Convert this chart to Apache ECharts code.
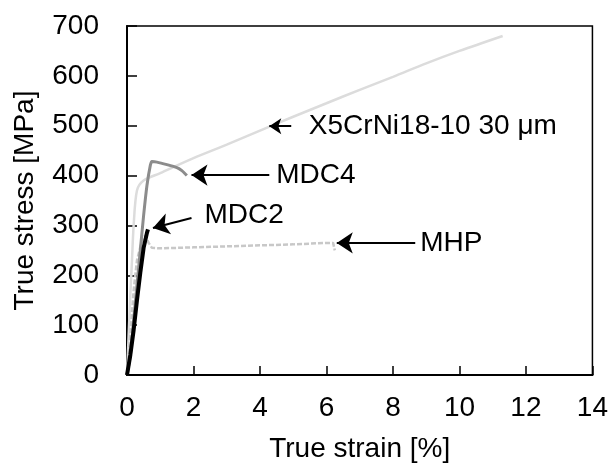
<!DOCTYPE html>
<html><head><meta charset="utf-8">
<script src="https://cdn.jsdelivr.net/npm/echarts@6/dist/echarts.min.js"></script>
<style>html,body{margin:0;padding:0;background:#fff}#c{width:611px;height:468px}</style>
</head><body><div id="c"></div>
<script>
// strain [%], stress [MPa]
const x5Strain = [0, 0.05, 0.1, 0.15, 0.2, 0.3, 0.5, 1, 2, 3, 4, 5, 6, 7, 8, 9, 10, 11.3];
const x5Stress = [0, 80, 160, 230, 300, 370, 390, 405, 435, 462, 490, 518, 545, 572, 598, 625, 650, 680];
const mdc4Strain = [0, 0.1, 0.2, 0.3, 0.4, 0.5, 0.6, 0.7, 0.75, 0.9, 1.2, 1.5, 1.65, 1.8];
const mdc4Stress = [0, 40, 110, 180, 250, 320, 380, 420, 428, 427, 422, 416, 410, 400];
const mdc2Strain = [0, 0.1, 0.2, 0.3, 0.4, 0.5, 0.6, 0.63];
const mdc2Stress = [0, 40, 90, 150, 205, 255, 285, 292];
const mhpStrain = [0, 0.1, 0.2, 0.3, 0.45, 0.55, 0.65, 0.75, 1, 2, 3, 4, 5, 6, 6.2, 6.25];
const mhpStress = [0, 80, 170, 230, 270, 280, 265, 255, 254, 256, 258, 260, 262, 265, 265, 250];

const labelNames = ['X5CrNi18-10 30 μm', 'MDC4', 'MDC2', 'MHP'];
const labelPos = [[5.47, 499], [4.49, 401], [2.33, 321], [8.82, 265]];
const arrowTail = [[4.94, 499], [4.28, 401], [1.94, 315], [8.67, 265]];
const arrowTip = [[4.28, 499], [1.94, 401], [0.78, 295], [6.31, 265]];

const xTicks = [0, 14, 2];
const yTicks = [0, 700, 100];

const zip = (a, b) => a.map((v, i) => [v, b[i]]);
const FONT = 'Liberation Sans, Arial, sans-serif';

const chart = echarts.init(document.getElementById('c'), null, {renderer: 'canvas'});
chart.setOption({
  animation: false,
  grid: {left: 127, right: 16, top: 26, bottom: 93, show: true, borderColor: '#000', borderWidth: 1.5, backgroundColor: 'transparent'},
  xAxis: {
    type: 'value', min: xTicks[0], max: xTicks[1], interval: xTicks[2],
    name: 'True strain [%]', nameLocation: 'middle', nameGap: 60,
    nameTextStyle: {fontSize: 28, color: '#000', fontFamily: FONT},
    axisLine: {show: true, onZero: false, lineStyle: {color: '#000', width: 2}},
    axisTick: {show: true, inside: true, length: 9, lineStyle: {color: '#000', width: 1.5}},
    axisLabel: {fontSize: 28, color: '#000', fontFamily: FONT, margin: 19},
    splitLine: {show: false}
  },
  yAxis: {
    type: 'value', min: yTicks[0], max: yTicks[1], interval: yTicks[2],
    name: 'True stress [MPa]', nameLocation: 'middle', nameGap: 88,
    nameTextStyle: {fontSize: 28, color: '#000', fontFamily: FONT},
    axisLine: {show: true, onZero: false, lineStyle: {color: '#000', width: 2}},
    axisTick: {show: true, inside: true, length: 10, lineStyle: {color: '#000', width: 1.5}},
    axisLabel: {fontSize: 28, color: '#000', fontFamily: FONT, margin: 28},
    splitLine: {show: false}
  },
  series: [
    {type: 'line', name: 'X5CrNi18-10', data: zip(x5Strain, x5Stress), showSymbol: false, symbol: 'none', smooth: 0.3,
     lineStyle: {color: '#dcdcdc', width: 2.5}, z: 1},
    {type: 'line', name: 'MHP', data: zip(mhpStrain, mhpStress), showSymbol: false, symbol: 'none',
     lineStyle: {color: '#c8c8c8', width: 2.5, type: [5, 2]}, z: 2},
    {type: 'line', name: 'MDC4', data: zip(mdc4Strain, mdc4Stress), showSymbol: false, symbol: 'none', smooth: 0.2,
     lineStyle: {color: '#8c8c8c', width: 3}, z: 3},
    {type: 'line', name: 'MDC2', data: zip(mdc2Strain, mdc2Stress), showSymbol: false, symbol: 'none',
     lineStyle: {color: '#000', width: 4}, z: 4},
    {type: 'lines', coordinateSystem: 'cartesian2d', z: 5,
     data: arrowTail.map((t, i) => ({coords: [t, arrowTip[i]], symbolSize: i === 0 ? [8, 12] : [10, 16]})),
     symbol: ['none', 'arrow'], symbolSize: [10, 16],
     lineStyle: {color: '#000', width: 2, opacity: 1, curveness: 0}},
    {type: 'scatter', symbolSize: 0, z: 6, itemStyle: {opacity: 1, color: '#000'},
     data: labelPos.map((p, i) => ({value: p, name: labelNames[i]})),
     label: {show: true, position: 'right', distance: 0, formatter: p => p.name, opacity: 1,
             fontSize: 28, color: '#000', fontFamily: FONT}}
  ]
});
</script></body></html>
